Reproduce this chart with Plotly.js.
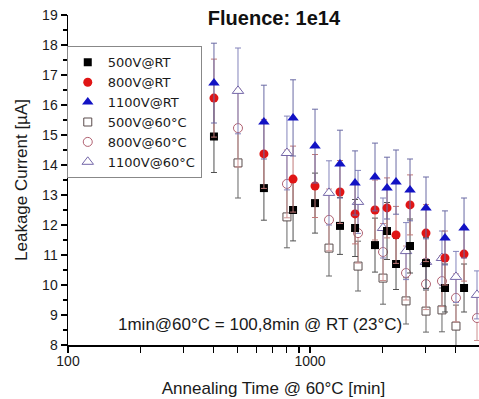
<!DOCTYPE html>
<html>
<head>
<meta charset="utf-8">
<script src="https://cdn.plot.ly/plotly-3.0.1.min.js"></script>
<style>
  html, body { margin: 0; padding: 0; background: #ffffff; }
  #chart { width: 479px; height: 399px; }
</style>
</head>
<body>
<div id="chart"></div>
<script>
// Annealing times [min]
const timeRT = [401, 645, 851, 1049, 1330, 1535, 1856, 2081, 2267, 2590, 3015, 3612, 4330];
const time60 = [504, 803, 1198, 1579, 2003, 2493, 3015, 3510, 4010, 4898];

// Leakage current [µA]
const i500RT  = [14.95, 13.23, 12.50, 12.73, 11.97, 11.90, 11.33, 11.80, 10.70, 11.30, 10.73, 9.90, 9.90];
const i800RT  = [16.23, 14.37, 13.53, 13.30, 13.10, 12.37, 12.50, 12.57, 11.67, 12.67, 11.73, 10.90, 11.03];
const i1100RT = [16.73, 15.43, 15.57, 14.63, 14.03, 13.40, 13.60, 13.23, 13.43, 13.17, 12.57, 11.57, 11.90];
const i500_60  = [14.07, 12.27, 11.23, 10.63, 10.23, 9.47, 9.13, 9.17, 8.63, null];
const i800_60  = [15.23, 13.37, 12.17, 11.73, 11.10, 10.40, 10.03, 10.13, 9.57, 8.90];
const i1100_60 = [16.47, 14.40, 13.07, 12.77, 11.90, 11.13, 10.77, 10.90, 10.27, 9.67];

// Error bars [µA]
const e500RT  = [1.20, 1.07, 1.03, 1.00, 0.95, 0.95, 0.90, 0.95, 0.85, 0.90, 0.85, 0.80, 0.80];
const e800RT  = [1.30, 1.15, 1.10, 1.05, 1.05, 1.00, 1.00, 1.00, 0.95, 1.00, 0.95, 0.90, 0.90];
const e1100RT = [1.33, 1.23, 1.27, 1.23, 1.13, 1.07, 1.13, 1.03, 1.07, 1.03, 1.03, 0.90, 1.00];
const e500_60  = [1.17, 1.03, 0.93, 0.83, 0.87, 0.77, 0.70, 0.73, 0.70, null];
const e800_60  = [1.30, 1.13, 1.03, 1.00, 0.95, 0.90, 0.85, 0.85, 0.80, 0.75];
const e1100_60 = [1.43, 1.23, 1.07, 1.05, 1.00, 0.95, 0.90, 0.90, 0.85, 0.80];

const names = ['500V@RT', '800V@RT', '1100V@RT', '500V@60°C', '800V@60°C', '1100V@60°C'];
const xTickVals = [100, 1000];
const xTickText = ['100', '1000'];
const xMinorVals = [200, 300, 400, 500, 600, 700, 800, 900, 2000, 3000, 4000];
const yTickVals = [8, 9, 10, 11, 12, 13, 14, 15, 16, 17, 18, 19];

function tr(name, x, y, err, symbol, fill, lineCol, size, barCol) {
  return {
    type: 'scatter', mode: 'markers', name: name, x: x, y: y,
    error_y: { type: 'data', array: err, visible: true, color: barCol, thickness: 1, width: 3 },
    marker: { symbol: symbol, color: fill, size: size, line: { color: lineCol, width: lineCol ? 1 : 0 } }
  };
}

const data = [
  tr(names[3], time60, i500_60,  e500_60,  'square',      '#ffffff', '#5a4c4c', 8,  '#666666'),
  tr(names[4], time60, i800_60,  e800_60,  'circle',      '#ffffff', '#b06070', 9,  '#cc9090'),
  tr(names[5], time60, i1100_60, e1100_60, 'triangle-up', '#ffffff', '#7466a8', 10, '#8484bb'),
  tr(names[0], timeRT, i500RT,  e500RT,  'square',      '#000000', null, 8,  '#505050'),
  tr(names[1], timeRT, i800RT,  e800RT,  'circle',      '#e01515', null, 9,  '#c07878'),
  tr(names[2], timeRT, i1100RT, e1100RT, 'triangle-up', '#1212c4', null, 10, '#6a6aa4')
];
// legend order: RT first
data.forEach((d, k) => { d.legendrank = [4, 5, 6, 1, 2, 3][k]; });

const layout = {
  width: 479, height: 399,
  paper_bgcolor: '#ffffff', plot_bgcolor: '#ffffff',
  margin: { l: 68, r: 0, t: 15, b: 54 },
  font: { family: 'Liberation Sans, Arial, sans-serif', color: '#1a1a1a', size: 14 },
  title: {
    text: '<b>Fluence: 1e14</b>', font: { size: 20, color: '#111111' },
    xref: 'container', yref: 'container', x: 0.572, y: 0.955, xanchor: 'center', yanchor: 'middle'
  },
  showlegend: true,
  legend: {
    x: -0.003, y: 0.905, xanchor: 'left', yanchor: 'top',
    bgcolor: '#ffffff', bordercolor: '#888888', borderwidth: 1,
    font: { family: 'DejaVu Sans, Liberation Sans, sans-serif', size: 13, color: '#1a1a1a' },
    tracegroupgap: 0, traceorder: 'normal'
  },
  xaxis: {
    type: 'log', range: [2, 3.6983], autorange: false,
    showgrid: false, zeroline: false,
    showline: true, linecolor: '#000000', linewidth: 1.5,
    ticks: 'outside', ticklen: 6, tickwidth: 1.2, tickcolor: '#000000',
    tickmode: 'array', tickvals: xTickVals, ticktext: xTickText,
    ticklabelstandoff: -3,
    minor: { tickmode: 'array', tickvals: xMinorVals, ticks: 'outside', ticklen: 6, tickwidth: 1.2, tickcolor: '#000000', showgrid: false },
    tickfont: { size: 14 },
    title: { text: 'Annealing Time @ 60°C [min]', font: { size: 17 }, standoff: 14 }
  },
  yaxis: {
    range: [8, 19], autorange: false,
    showgrid: false, zeroline: false,
    showline: true, linecolor: '#000000', linewidth: 1.5,
    ticks: 'outside', ticklen: 6, tickwidth: 1.2, tickcolor: '#000000',
    tickmode: 'array', tickvals: yTickVals,
    minor: { dtick: 0.5, ticks: 'outside', ticklen: 4, tickwidth: 1.2, tickcolor: '#000000', showgrid: false },
    tickfont: { size: 14 },
    title: { text: 'Leakage Current [µA]', font: { size: 17 }, standoff: 10 }
  },
  annotations: [{
    text: '1min@60°C = 100,8min @ RT (23°C)',
    xref: 'paper', yref: 'paper', x: 0.466, y: 0.0636, xanchor: 'center', yanchor: 'middle',
    showarrow: false, font: { size: 17, color: '#1a1a1a' }
  }]
};

Plotly.newPlot('chart', data, layout, { displayModeBar: false, staticPlot: true });
</script>
</body>
</html>
